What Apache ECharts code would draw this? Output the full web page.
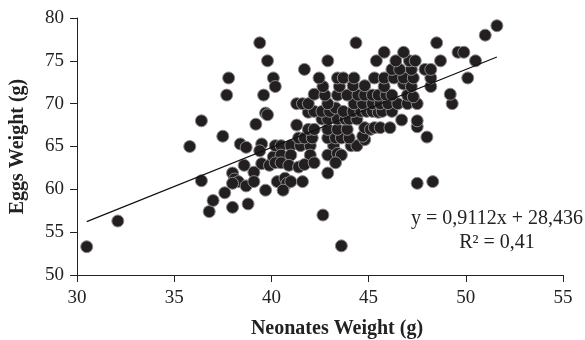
<!DOCTYPE html>
<html>
<head>
<meta charset="utf-8">
<script src="https://cdn.jsdelivr.net/npm/echarts@6/dist/echarts.min.js"></script>
<style>html,body{margin:0;padding:0;background:#fff}#c{width:585px;height:340px}</style>
</head>
<body>
<div id="c"></div>
<script>
// Neonates weight (g)
const neonates = [
30.5,32.1,35.8,36.4,36.8,37.0,37.6,38.0,38.8,36.4,37.5,37.8,37.7,38.4,38.7,38.6,38.0,38.1,38.3,38.0,38.7,39.1,39.1,39.2,39.4,39.8,39.6,39.7,39.8,39.5,39.4,39.5,39.9,39.7,40.1,40.1,40.2,
40.2,40.5,41.0,41.5,42.0,43.2,44.1,44.4,44.8,
40.5,41.0,42.0,42.9,43.4,43.6,
40.2,40.5,40.9,41.4,41.7,42.2,43.3,42.9,
40.3,40.7,40.8,41.0,41.6,40.6,42.65,43.6,47.5,48.3,
41.4,41.7,42.1,42.9,43.3,43.6,44.0,44.7,48.0,
41.3,41.9,42.2,42.9,43.4,43.9,44.8,45.1,45.3,45.6,46.1,47.5,
42.6,42.9,43.4,43.8,44.0,44.4,46.7,47.5,
41.9,42.2,42.6,43.0,43.3,43.7,44.2,44.6,44.9,45.2,45.5,45.7,46.2,
41.3,41.6,41.9,42.9,44.25,44.7,45.2,45.6,46.0,46.5,47.0,47.5,49.3,
42.2,42.75,43.4,43.9,44.45,44.8,45.2,45.5,45.9,46.2,47.0,47.3,49.2,
42.65,43.5,44.2,44.8,45.8,46.8,47.2,48.2,
42.45,43.4,43.7,44.25,45.3,45.8,46.3,46.8,47.3,48.2,50.1,
41.7,46.2,46.6,47.2,47.9,48.2,
42.9,45.4,46.4,47.1,47.4,48.7,50.5,
45.8,46.8,49.6,49.9,
44.35,48.5,51.0,51.6
];
// Eggs weight (g)
const eggs = [
53.3,56.3,65.0,61.0,57.4,58.7,59.6,57.9,58.3,68.0,66.2,73.0,71.0,65.3,64.9,62.8,61.9,61.2,60.9,60.7,60.4,62.0,60.9,67.6,77.1,75.0,71.0,68.9,68.7,65.3,64.5,63.0,62.8,59.9,63.8,73.0,72.0,
65.1,65.1,65.1,65.1,65.1,65.1,65.1,65.1,65.8,
64.0,64.0,64.0,64.0,64.2,64.0,
63.1,63.1,62.8,62.6,62.9,63.1,63.1,61.9,
60.9,61.3,60.7,60.9,60.9,59.9,57.0,53.4,60.7,60.9,
66.0,66.0,66.0,66.0,66.0,66.0,66.0,66.2,66.1,
67.5,67.0,67.0,67.0,67.0,67.0,67.2,67.0,67.2,67.2,67.2,67.3,
68.2,68.2,68.2,68.2,68.2,68.2,68.1,68.0,
69.0,69.1,69.1,69.1,69.5,69.1,69.1,69.1,69.1,69.1,69.0,69.1,69.1,
70.0,70.0,70.0,70.0,70.0,70.0,70.0,70.0,70.0,70.0,70.0,70.0,70.0,
71.1,71.0,71.0,71.0,71.0,71.0,71.0,71.0,71.0,71.0,71.0,70.8,71.1,
72.0,72.0,72.1,72.1,72.0,72.3,72.0,72.0,
73.0,73.0,73.0,73.0,73.0,73.0,73.0,73.0,73.0,73.0,73.0,
74.0,74.0,74.0,74.0,74.0,74.0,
75.0,75.0,75.0,75.0,75.0,75.0,75.0,
76.0,76.0,76.0,76.0,
77.1,77.1,78.0,79.1
];
const xTicks = [30, 35, 40, 45, 50, 55];
const yTicks = [50, 55, 60, 65, 70, 75, 80];
const slope = 0.9112;
const intercept = 28.436;
const fitRange = [30.5, 51.6];
const eqText = 'y = 0,9112x + 28,436';
const r2Text = 'R² = 0,41';

const points = neonates.map((x, i) => [x, eggs[i]]);
const fitLine = fitRange.map(x => [x, slope * x + intercept]);
const FONT = '"Liberation Serif", "Times New Roman", serif';

const chart = echarts.init(document.getElementById('c'), null, {renderer: 'canvas'});
chart.setOption({
  animation: false,
  backgroundColor: '#fff',
  grid: {left: 77, right: 22, top: 18, bottom: 65, containLabel: false, outerBoundsMode: 'none'},
  xAxis: {
    type: 'value', min: xTicks[0], max: xTicks[xTicks.length - 1], interval: 5,
    splitLine: {show: false},
    axisLine: {show: true, lineStyle: {color: '#222', width: 1}},
    axisTick: {show: true, length: 7, lineStyle: {color: '#222'}},
    axisLabel: {fontFamily: FONT, fontSize: 19, color: '#222', margin: 14},
    name: 'Neonates Weight (g)', nameLocation: 'middle', nameGap: 44,
    nameTextStyle: {fontFamily: FONT, fontSize: 20, fontWeight: 'bold', color: '#222', padding: [0, 0, 0, 34]}
  },
  yAxis: {
    type: 'value', min: yTicks[0], max: yTicks[yTicks.length - 1], interval: 5,
    splitLine: {show: false},
    axisLine: {show: true, lineStyle: {color: '#222', width: 1}},
    axisTick: {show: true, length: 7, lineStyle: {color: '#222'}},
    axisLabel: {fontFamily: FONT, fontSize: 19, color: '#222', margin: 13},
    name: 'Eggs Weight (g)', nameLocation: 'middle', nameGap: 49,
    nameTextStyle: {fontFamily: FONT, fontSize: 20, fontWeight: 'bold', color: '#222'}
  },
  series: [
    {
      type: 'scatter', data: points, symbol: 'circle', symbolSize: 12,
      itemStyle: {color: '#231f20', borderColor: '#8a8a8a', borderWidth: 1, opacity: 1},
      z: 2
    },
    {
      type: 'line', data: fitLine, symbol: 'none',
      lineStyle: {color: '#111', width: 1.2}, z: 3, silent: true
    }
  ],
  graphic: [
    {type: 'text', x: 497, y: 219, style: {text: eqText, font: '20px ' + FONT, fill: '#222', textAlign: 'center', textVerticalAlign: 'middle'}},
    {type: 'text', x: 497, y: 243, style: {text: r2Text, font: '20px ' + FONT, fill: '#222', textAlign: 'center', textVerticalAlign: 'middle'}}
  ]
});
</script>
</body>
</html>
